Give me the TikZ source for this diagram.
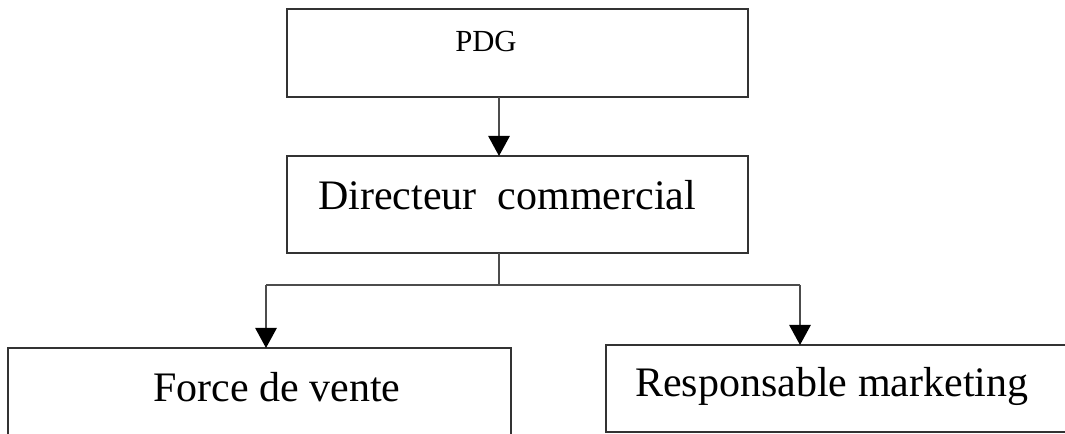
\documentclass[tikz,border=0pt]{standalone}
\usepackage{fontspec}
\setmainfont{Liberation Serif}
\usetikzlibrary{arrows.meta}
\begin{document}
\begin{tikzpicture}[x=0.75pt,y=-0.75pt,
  box/.style={draw=black!80,line width=1.5pt,rectangle,inner sep=0pt,outer sep=0pt,anchor=north west},
  lbl/.style={anchor=base west,inner sep=0pt,font=\fontsize{31.5pt}{36pt}\selectfont},
  lblsmall/.style={anchor=base west,inner sep=0pt,font=\fontsize{23pt}{27pt}\selectfont},
  conn/.style={draw=black!70,line width=1.3pt},
  arr/.style={conn,-{Triangle[length=15pt,width=16pt,black]}}]
\useasboundingbox (0,0) rectangle (1065,434);
\clip (0,0) rectangle (1065,434);
% boxes
\node[box,minimum width=461*0.75pt,minimum height=88*0.75pt] (pdg) at (287,9) {};
\node[box,minimum width=461*0.75pt,minimum height=97*0.75pt] (dir) at (287,156) {};
\node[box,minimum width=503*0.75pt,minimum height=130*0.75pt] (fv) at (8,348) {};
\node[box,minimum width=480*0.75pt,minimum height=87*0.75pt] (rm) at (606,345) {};
% texts
\node[lblsmall] (tpdg) at (455,52) {PDG};
\node[lbl] (tdir) at (318,210) {Directeur\ \ commercial};
\node[lbl] (tfv) at (153,402) {Force de vente};
\node[lbl] (trm) at (635,397) {Responsable marketing};
% junctions
\coordinate (j) at (499,285);
\coordinate (jl) at (266,285);
\coordinate (jr) at (800,285);
% connectors
\draw[arr] (pdg.south -| j) -- (dir.north -| j);
\draw[conn] (dir.south -| j) -- (j);
\draw[conn] (jl) -- (jr);
\draw[arr] (jl) -- (fv.north -| jl);
\draw[arr] (jr) -- (rm.north -| jr);
\end{tikzpicture}
\end{document}
